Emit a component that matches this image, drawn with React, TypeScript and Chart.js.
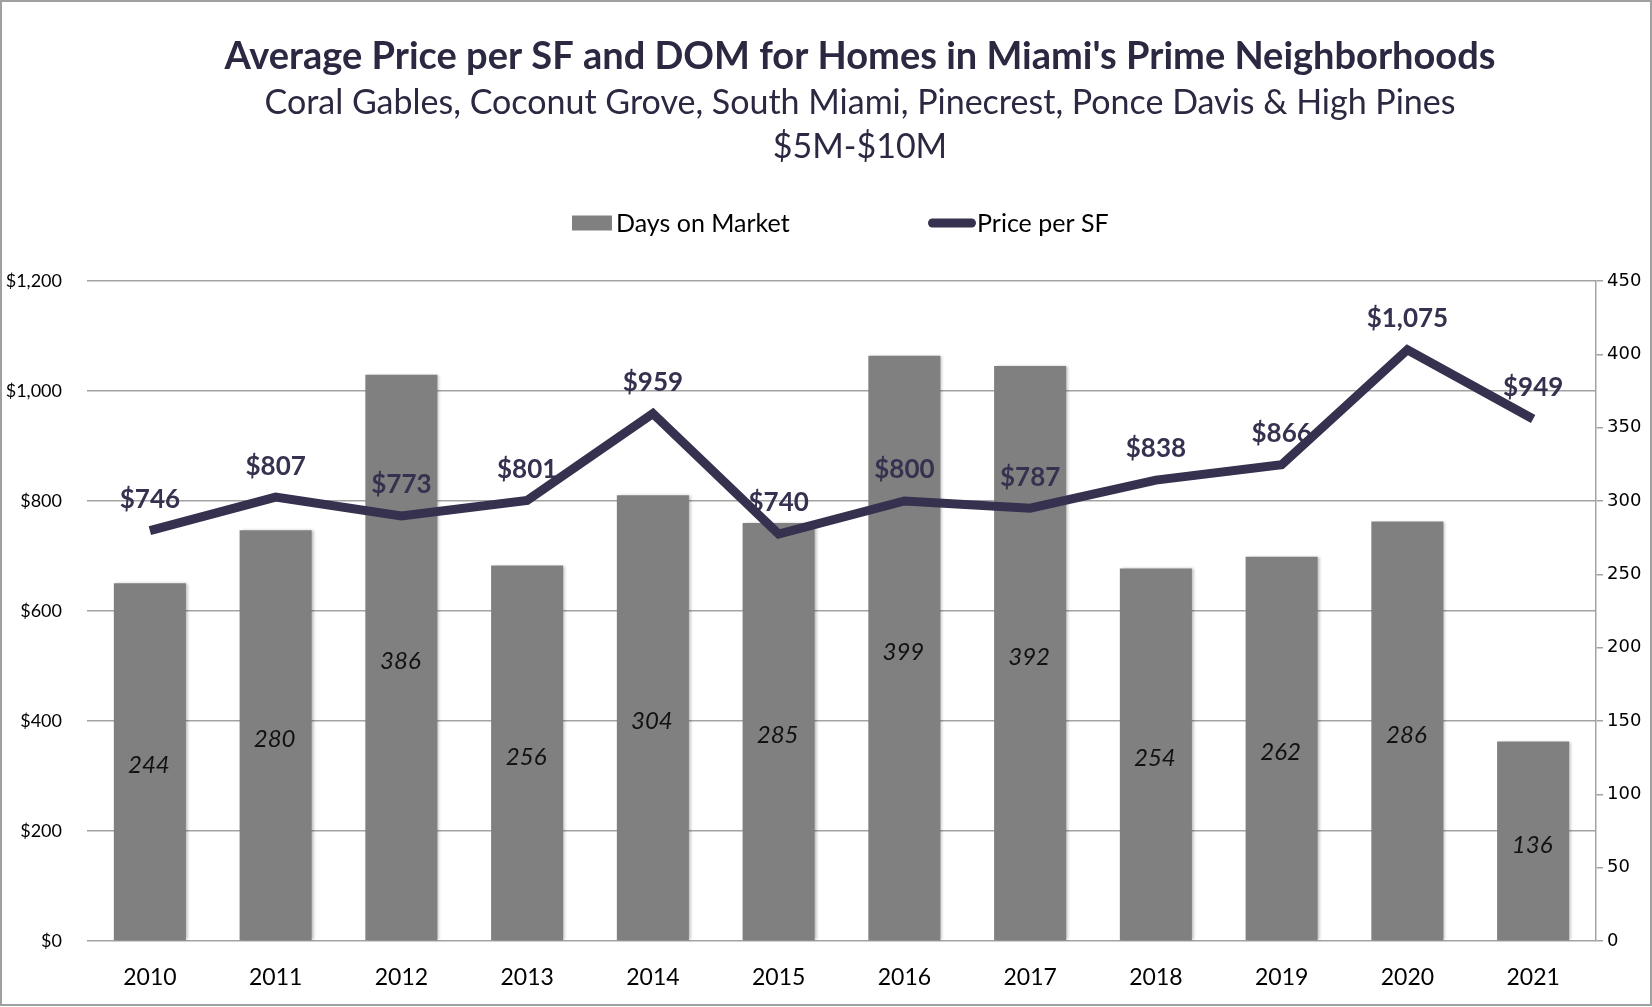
import React, { useEffect, useRef } from 'react';
import { Chart, registerables } from 'chart.js';

Chart.register(...registerables);

// ---- data ----
const years = ['2010', '2011', '2012', '2013', '2014', '2015', '2016', '2017', '2018', '2019', '2020', '2021'];
const daysOnMarket = [244, 280, 386, 256, 304, 285, 399, 392, 254, 262, 286, 136];
const pricePerSF = [746, 807, 773, 801, 959, 740, 800, 787, 838, 866, 1075, 949];

const priceAxisMax = 1200;
const priceAxisStep = 200;
const domAxisMax = 450;
const domAxisStep = 50;

const titleText = "Average Price per SF and DOM for Homes in Miami's Prime Neighborhoods";
const subtitleLines = [
  'Coral Gables, Coconut Grove, South Miami, Pinecrest, Ponce Davis & High Pines',
  '$5M-$10M',
];
const legendBarLabel = 'Days on Market';
const legendLineLabel = 'Price per SF';

// ---- styles ----
const NAVY = '#35314f';
const TITLE_COLOR = '#2b2841';
const BAR_GRAY = '#808080';
const GRID = '#a3a3a3';
const FONT = 'Lato';

const fmtMoney = (v: number) => '$' + Number(v).toLocaleString('en-US');

const framePlugin = {
  id: 'frame',
  beforeDraw(chart: any) {
    const { ctx, width, height } = chart;
    ctx.save();
    ctx.fillStyle = '#ffffff';
    ctx.fillRect(0, 0, width, height);
    ctx.restore();
  },
  afterDraw(chart: any) {
    const { ctx, width, height } = chart;
    ctx.save();
    ctx.strokeStyle = '#a0a0a0';
    ctx.lineWidth = 2;
    ctx.strokeRect(1, 1, width - 2, height - 3);
    ctx.restore();
  },
};

// Title block (centered slightly right of canvas centre, as in the reference)
const headerPlugin = {
  id: 'header',
  afterDraw(chart: any) {
    const { ctx, width } = chart;
    const cx = width / 2 + 34;
    ctx.save();
    ctx.textAlign = 'center';
    ctx.textBaseline = 'middle';
    ctx.fillStyle = TITLE_COLOR;
    ctx.font = `bold 38px ${FONT}`;
    ctx.fillText(titleText, cx, 57);
    ctx.font = `34px ${FONT}`;
    subtitleLines.forEach((line, i) => {
      ctx.fillText(line, cx, 103 + i * 44);
    });
    ctx.restore();
  },
};

const legendPlugin = {
  id: 'customLegend',
  afterDraw(chart: any) {
    const { ctx, width } = chart;
    const cx = width / 2;
    const y = 223;
    ctx.save();
    ctx.font = `25px ${FONT}`;
    ctx.textBaseline = 'middle';
    ctx.textAlign = 'left';
    ctx.fillStyle = BAR_GRAY;
    ctx.fillRect(cx - 254, y - 7.5, 40, 15);
    ctx.fillStyle = '#000000';
    ctx.fillText(legendBarLabel, cx - 210, y + 1);
    ctx.strokeStyle = NAVY;
    ctx.lineWidth = 9;
    ctx.lineCap = 'round';
    ctx.beginPath();
    ctx.moveTo(cx + 106.5, y);
    ctx.lineTo(cx + 145.5, y);
    ctx.stroke();
    ctx.fillStyle = '#000000';
    ctx.fillText(legendLineLabel, cx + 151, y + 1);
    ctx.restore();
  },
};

const barShadowPlugin = {
  id: 'barShadow',
  beforeDatasetDraw(chart: any, args: any) {
    if (chart.data.datasets[args.index].type === 'bar') {
      const ctx = chart.ctx;
      ctx.save();
      ctx.shadowColor = 'rgba(0,0,0,0.28)';
      ctx.shadowBlur = 3;
      ctx.shadowOffsetX = 2;
      ctx.shadowOffsetY = 0;
    }
  },
  afterDatasetDraw(chart: any, args: any) {
    if (chart.data.datasets[args.index].type === 'bar') {
      chart.ctx.restore();
    }
  },
};

const valueLabelPlugin = {
  id: 'valueLabels',
  afterDatasetsDraw(chart: any) {
    const { ctx } = chart;
    ctx.save();
    chart.data.datasets.forEach((ds: any, i: number) => {
      const meta = chart.getDatasetMeta(i);
      meta.data.forEach((el: any, j: number) => {
        const v = ds.data[j];
        ctx.textAlign = 'center';
        ctx.textBaseline = 'middle';
        if (ds.type === 'bar') {
          ctx.font = `italic 24px ${FONT}`;
          ctx.fillStyle = '#111111';
          ctx.fillText(String(v), el.x - 1, (el.y + el.base) / 2 + 4);
        } else {
          ctx.font = `bold 26px ${FONT}`;
          ctx.fillStyle = NAVY;
          ctx.fillText(fmtMoney(v), el.x, el.y - 31);
        }
      });
    });
    ctx.restore();
  },
};

export default function App() {
  const canvasRef = useRef<HTMLCanvasElement | null>(null);

  useEffect(() => {
    document.body.style.margin = '0';
    document.body.style.overflow = 'hidden';
    const canvas = canvasRef.current;
    if (!canvas) return;

    const chart = new Chart(canvas, {
      data: {
        labels: years,
        datasets: [
          {
            type: 'line' as const,
            label: legendLineLabel,
            data: pricePerSF,
            yAxisID: 'y',
            borderColor: NAVY,
            backgroundColor: NAVY,
            borderWidth: 9,
            borderJoinStyle: 'miter' as const,
            borderCapStyle: 'butt' as const,
            pointRadius: 0,
            pointHoverRadius: 0,
            tension: 0,
            fill: false,
            order: 0,
          },
          {
            type: 'bar' as const,
            label: legendBarLabel,
            data: daysOnMarket,
            yAxisID: 'y2',
            backgroundColor: BAR_GRAY,
            borderWidth: 0,
            categoryPercentage: 1,
            barPercentage: 0.573,
            order: 1,
          },
        ],
      },
      options: {
        responsive: false,
        animation: false,
        devicePixelRatio: 1,
        layout: { padding: { left: 5, right: 4, top: 281, bottom: 6 } },
        plugins: {
          legend: { display: false },
          tooltip: { enabled: false },
          title: { display: false },
        },
        scales: {
          x: {
            grid: { display: false, drawTicks: false },
            border: { display: false },
            ticks: {
              color: '#000000',
              font: { family: FONT, size: 23 },
              padding: 23,
              maxRotation: 0,
              autoSkip: false,
            },
            afterFit: (scale: any) => {
              scale.height = 60;
            },
          },
          y: {
            position: 'left',
            min: 0,
            max: priceAxisMax,
            grid: { color: GRID, lineWidth: 1.5, drawTicks: false },
            border: { display: false },
            ticks: {
              stepSize: priceAxisStep,
              color: '#000000',
              font: { family: FONT, size: 18 },
              padding: 25,
              callback: (v: any) => fmtMoney(v),
            },
            afterFit: (scale: any) => {
              scale.width = 82;
            },
          },
          y2: {
            position: 'right',
            min: 0,
            max: domAxisMax,
            grid: {
              drawOnChartArea: false,
              drawTicks: true,
              tickLength: 7,
              color: GRID,
              lineWidth: 1.5,
            },
            border: { display: true, color: GRID, width: 1.5 },
            ticks: {
              stepSize: domAxisStep,
              color: '#000000',
              font: { family: 'DejaVu Sans', size: 18 },
              padding: 4,
            },
            afterFit: (scale: any) => {
              scale.width = 52;
            },
          },
        },
      },
      plugins: [framePlugin, barShadowPlugin, valueLabelPlugin, legendPlugin, headerPlugin],
    } as any);

    return () => {
      chart.destroy();
    };
  }, []);

  return (
    <div style={{ width: 1652, height: 1007, position: 'relative' }}>
      <canvas ref={canvasRef} width={1652} height={1007} style={{ display: 'block', width: 1652, height: 1007 }} />
    </div>
  );
}
